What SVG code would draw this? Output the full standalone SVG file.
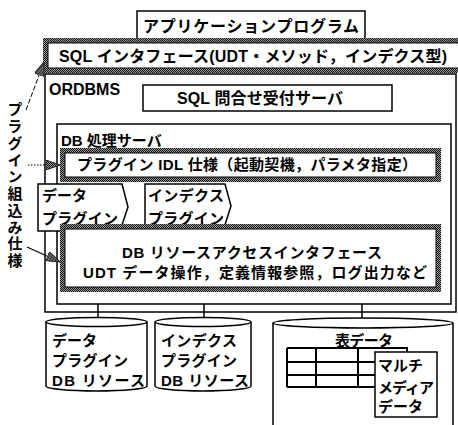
<svg xmlns="http://www.w3.org/2000/svg" width="458" height="425" viewBox="0 0 458 425">
<style>
.t{font-family:"Liberation Sans","Noto Sans CJK JP",sans-serif;font-weight:bold;fill:#000}
.f16{font-size:16px}
.f15{font-size:15px}
.box{fill:#fff;stroke:#000;stroke-width:1.5}
.ln{fill:none;stroke:#000;stroke-width:1.5}
.hb{fill:none;stroke:url(#ht);stroke-width:5}
.thin{fill:none;stroke:#000;stroke-width:1}
.tbl{fill:none;stroke:#000;stroke-width:2}
</style>
<defs>
<pattern id="ht" width="2" height="2" patternUnits="userSpaceOnUse">
<rect width="2" height="2" fill="#9a9a9a"/>
<rect width="1" height="1" fill="#111"/>
<rect x="1" y="1" width="1" height="1" fill="#111"/>
</pattern>
<marker id="ah" viewBox="0 0 14 10" refX="14" refY="5" markerWidth="14" markerHeight="10" markerUnits="userSpaceOnUse" orient="auto">
<path d="M0,0 L14,5 L0,10 Z" fill="url(#ht)" stroke="#222" stroke-width="1"/>
</marker>
</defs>
<rect width="458" height="425" fill="#fff"/>

<g id="app">
<rect class="box" x="137" y="11" width="228" height="28"/>
<text class="t f16" x="143" y="32" textLength="216">アプリケーションプログラム</text>
</g>

<g id="sql-if">
<rect x="43" y="38" width="430" height="35" fill="#fff"/>
<rect class="hb" x="45.5" y="40.5" width="430" height="30"/>
<rect class="thin" x="48" y="43" width="430" height="25"/>
<text class="t f16" x="59" y="62" textLength="388">SQL インタフェース(UDT・メソッド，インデクス型)</text>
</g>

<g id="ordbms">
<rect class="ln" x="45" y="74" width="411" height="238"/>
<text class="t f16" x="49" y="95">ORDBMS</text>
</g>

<g id="sql-server">
<rect class="box" x="143" y="85" width="249" height="26"/>
<text class="t f16" x="177" y="104" textLength="166">SQL 問合せ受付サーバ</text>
</g>

<g id="db-server">
<rect class="ln" x="57" y="124" width="394" height="180"/>
<text class="t f15" x="61" y="146">DB 処理サーバ</text>
</g>

<g id="idl">
<rect x="60" y="148" width="381" height="34" fill="#fff"/>
<rect class="hb" x="62.5" y="150.5" width="376" height="29"/>
<rect class="thin" x="65" y="153" width="371" height="24"/>
<text class="t f15" x="77" y="170" textLength="340">プラグイン IDL 仕様（起動契機，パラメタ指定）</text>
</g>

<g id="data-plugin">
<path class="box" d="M38,184 L122,184 L128,207 L120,231 L38,231 Z"/>
<text class="t f15" x="42" y="201">データ</text>
<text class="t f15" x="42" y="224" textLength="76">プラグイン</text>
</g>

<g id="index-plugin">
<path class="box" d="M145,184 L225,184 L231,206 L223,231 L145,231 Z"/>
<text class="t f15" x="148" y="201" textLength="76">インデクス</text>
<text class="t f15" x="148" y="224" textLength="76">プラグイン</text>
</g>

<g id="db-access">
<rect x="60" y="224" width="381" height="68" fill="#fff"/>
<rect class="hb" x="62.5" y="226.5" width="376" height="63"/>
<rect class="thin" x="65" y="229" width="371" height="58"/>
<text class="t f15" x="122" y="258" textLength="260">DB リソースアクセスインタフェース</text>
<text class="t f15" x="83" y="278" textLength="344">UDT データ操作，定義情報参照，ログ出力など</text>
</g>

<g id="data-db">
<path class="box" d="M46,322 L46,386 A50.5,5 0 0 0 147,386 L147,322"/>
<ellipse class="box" cx="96.5" cy="322" rx="50.5" ry="4.5"/>
<text class="t f15" x="52" y="346">データ</text>
<text class="t f15" x="52" y="366" textLength="76">プラグイン</text>
<text class="t f15" x="52" y="386" textLength="93">DB リソース</text>
</g>

<g id="index-db">
<path class="box" d="M155,322 L155,386 A48,5 0 0 0 251,386 L251,322"/>
<ellipse class="box" cx="203" cy="322" rx="48" ry="4.5"/>
<text class="t f15" x="161" y="346" textLength="76">インデクス</text>
<text class="t f15" x="161" y="366" textLength="76">プラグイン</text>
<text class="t f15" x="161" y="386" textLength="88">DB リソース</text>
</g>

<g id="table-db">
<path class="box" d="M273,323 L273,430 L453,430 L453,323"/>
<ellipse class="box" cx="363" cy="323" rx="90" ry="5"/>
<text class="t f15" x="335" y="346" textLength="58">表データ</text>
<path class="tbl" d="M287,348 L407,348 L407,352 M287,362 L380,362 M287,375 L380,375 M287,387 L380,387 M287,348 L287,387 M316,348 L316,387 M358,348 L358,387"/>
<rect class="box" x="375" y="352" width="62" height="65"/>
<text class="t f15" x="378" y="371" textLength="45">マルチ</text>
<text class="t f15" x="378" y="393" textLength="56">メディア</text>
<text class="t f15" x="378" y="412" textLength="45">データ</text>
</g>

<g id="plugin-spec">
<text class="t f15" x="14" y="102" style="writing-mode:vertical-rl" textLength="166">プラグイン組込み仕様</text>
</g>

<g id="connectors">
<line class="ln" x1="98" y1="304" x2="98" y2="318"/>
<line class="ln" x1="204" y1="304" x2="204" y2="318"/>
<line class="ln" x1="362" y1="304" x2="362" y2="318"/>
<line x1="26" y1="110" x2="44" y2="62" stroke="#000" stroke-width="1" stroke-dasharray="5,2" marker-end="url(#ah)"/>
<line x1="28" y1="165" x2="60" y2="165" stroke="#000" stroke-width="1.2" stroke-dasharray="1.5,1.5" marker-end="url(#ah)"/>
<line x1="27" y1="247" x2="60" y2="262" stroke="#000" stroke-width="1.2" marker-end="url(#ah)"/>
</g>
</svg>
